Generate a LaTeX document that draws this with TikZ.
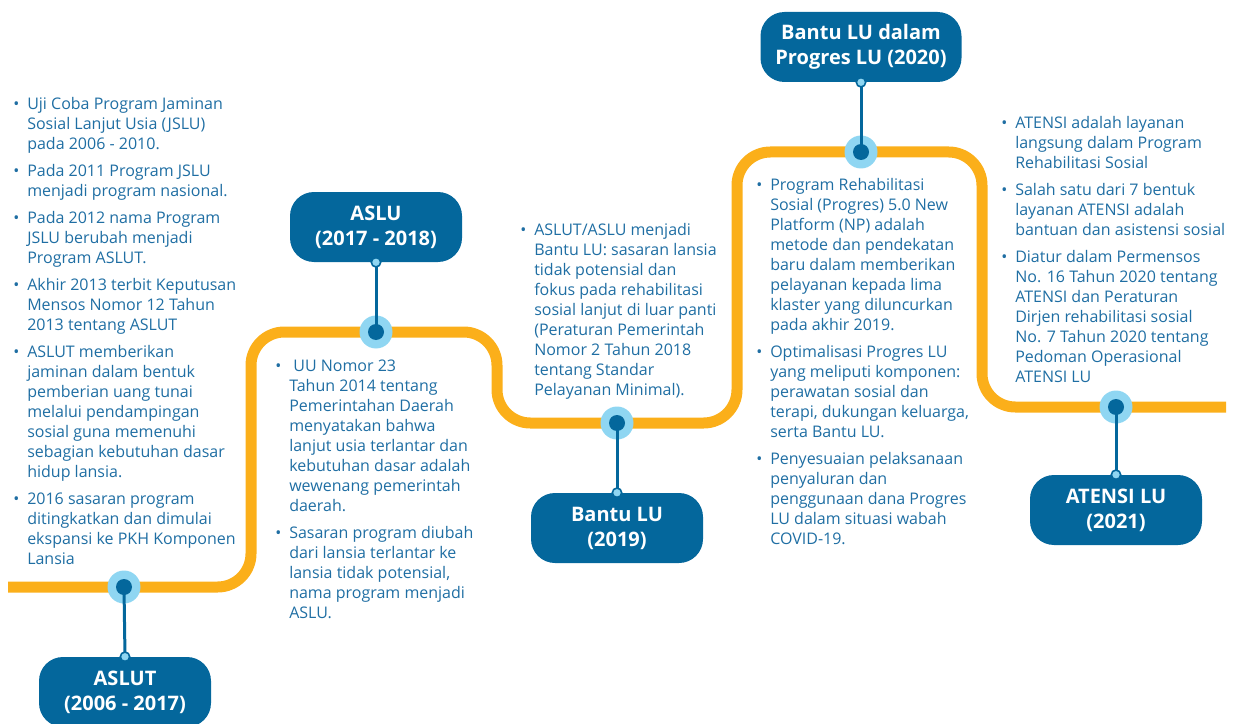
\documentclass[tikz,border=0pt]{standalone}
\usepackage{fontspec}
\setmainfont{Open Sans}
\usepackage{xcolor}
\definecolor{navy}{HTML}{04679C}
\definecolor{amber}{HTML}{FBAF1A}
\definecolor{sky}{HTML}{8FD6F2}
\definecolor{ink}{HTML}{1F6EA3}
\newcommand{\bul}{\makebox[10.5pt][l]{\textbullet}}
\tikzset{
  track/.style={draw=amber,line width=8.25pt,rounded corners=25pt},
  hub/.style={circle,fill=sky,minimum size=24.75pt,inner sep=0pt},
  pin/.style={circle,draw=navy,fill=sky,line width=1.2pt,minimum size=7pt,inner sep=0pt},
  link/.style={draw=navy,line width=2.25pt},
  tag/.style={fill=navy,rounded corners=18pt,minimum width=129pt,minimum height=52.5pt,
    align=center,text=white,font=\bfseries\fontsize{15pt}{18.75pt}\selectfont,inner sep=0pt},
  info/.style={anchor=north west,inner sep=0pt,text=ink,font=\fontsize{12pt}{15pt}\selectfont}
}
\begin{document}
\begin{tikzpicture}[x=0.75pt,y=-0.75pt]
\useasboundingbox (0,0) rectangle (1233,724) ;

%timeline track
\draw [track] (8,587) -- (251,587) -- (251,332) -- (497,332) -- (497,423) -- (737,423)
  -- (737,152) -- (982,152) -- (982,407) -- (1226,407) ;

%hubs on the track
\node [hub] (hubA) at (124,587) {} ;
\node [hub] (hubB) at (376,332) {} ;
\node [hub] (hubC) at (617,423) {} ;
\node [hub] (hubD) at (861,152) {} ;
\node [hub] (hubE) at (1116,407) {} ;

%period tags
\node [tag] (tagA) at (125,692) {ASLUT\\(2006 - 2017)} ;
\node [tag] (tagB) at (376,227) {ASLU\\(2017 - 2018)} ;
\node [tag] (tagC) at (617,528) {Bantu LU\\(2019)} ;
\node [tag,minimum width=150.75pt] (tagD) at (861,47) {Bantu LU dalam\\Progres LU (2020)} ;
\node [tag] (tagE) at (1116,510) {ATENSI LU\\(2021)} ;

%links from tags to hubs
\draw [link] (tagA.north) -- (hubA.center) ;
\draw [link] (tagB.south) -- (hubB.center) ;
\draw [link] (tagC.north) -- (hubC.center) ;
\draw [link] (tagD.south) -- (hubD.center) ;
\draw [link] (tagE.north) -- (hubE.center) ;

\foreach \h in {hubA,hubB,hubC,hubD,hubE}
  \fill [navy] (\h) circle [radius=6pt] ;

\node [pin] (pinA) at (tagA.north) {} ;
\node [pin] (pinB) at (tagB.south) {} ;
\node [pin] (pinC) at (tagC.north) {} ;
\node [pin] (pinD) at (tagD.south) {} ;
\node [pin] (pinE) at (tagE.north) {} ;

%notes for each period
\node [info] (infoA) at (13,95) {\begin{tabular}{@{}l@{}l@{}}
\bul & Uji Coba Program Jaminan\\
 & Sosial Lanjut Usia (JSLU)\\
 & pada 2006 - 2010.\\[5.25pt]
\bul & Pada 2011 Program JSLU\\
 & menjadi program nasional.\\[5.25pt]
\bul & Pada 2012 nama Program\\
 & JSLU berubah menjadi\\
 & Program ASLUT.\\[5.25pt]
\bul & Akhir 2013 terbit Keputusan\\
 & Mensos Nomor 12 Tahun\\
 & 2013 tentang ASLUT\\[5.25pt]
\bul & ASLUT memberikan\\
 & jaminan dalam bentuk\\
 & pemberian uang tunai\\
 & melalui pendampingan\\
 & sosial guna memenuhi\\
 & sebagian kebutuhan dasar\\
 & hidup lansia.\\[5.25pt]
\bul & 2016 sasaran program\\
 & ditingkatkan dan dimulai\\
 & ekspansi ke PKH Komponen\\
 & Lansia
\end{tabular}} ;

\node [info] (infoB) at (275,357) {\begin{tabular}{@{}l@{}l@{}}
\bul & \ UU Nomor 23\\
 & Tahun 2014 tentang\\
 & Pemerintahan Daerah\\
 & menyatakan bahwa\\
 & lanjut usia terlantar dan\\
 & kebutuhan dasar adalah\\
 & wewenang pemerintah\\
 & daerah.\\[5.25pt]
\bul & Sasaran program diubah\\
 & dari lansia terlantar ke\\
 & lansia tidak potensial,\\
 & nama program menjadi\\
 & ASLU.
\end{tabular}} ;

\node [info] (infoC) at (520,221) {\begin{tabular}{@{}l@{}l@{}}
\bul & ASLUT/ASLU menjadi\\
 & Bantu LU: sasaran lansia\\
 & tidak potensial dan\\
 & fokus pada rehabilitasi\\
 & sosial lanjut di luar panti\\
 & (Peraturan Pemerintah\\
 & Nomor 2 Tahun 2018\\
 & tentang Standar\\
 & Pelayanan Minimal).
\end{tabular}} ;

\node [info] (infoD) at (756,176) {\begin{tabular}{@{}l@{}l@{}}
\bul & Program Rehabilitasi\\
 & Sosial (Progres) 5.0 New\\
 & Platform (NP) adalah\\
 & metode dan pendekatan\\
 & baru dalam memberikan\\
 & pelayanan kepada lima\\
 & klaster yang diluncurkan\\
 & pada akhir 2019.\\[5.25pt]
\bul & Optimalisasi Progres LU\\
 & yang meliputi komponen:\\
 & perawatan sosial dan\\
 & terapi, dukungan keluarga,\\
 & serta Bantu LU.\\[5.25pt]
\bul & Penyesuaian pelaksanaan\\
 & penyaluran dan\\
 & penggunaan dana Progres\\
 & LU dalam situasi wabah\\
 & COVID-19.
\end{tabular}} ;

\node [info] (infoE) at (1001,114) {\begin{tabular}{@{}l@{}l@{}}
\bul & ATENSI adalah layanan\\
 & langsung dalam Program\\
 & Rehabilitasi Sosial\\[5.25pt]
\bul & Salah satu dari 7 bentuk\\
 & layanan ATENSI adalah\\
 & bantuan dan asistensi sosial\\[5.25pt]
\bul & Diatur dalam Permensos\\
 & No. 16 Tahun 2020 tentang\\
 & ATENSI dan Peraturan\\
 & Dirjen rehabilitasi sosial\\
 & No. 7 Tahun 2020 tentang\\
 & Pedoman Operasional\\
 & ATENSI LU
\end{tabular}} ;

\end{tikzpicture}
\end{document}
